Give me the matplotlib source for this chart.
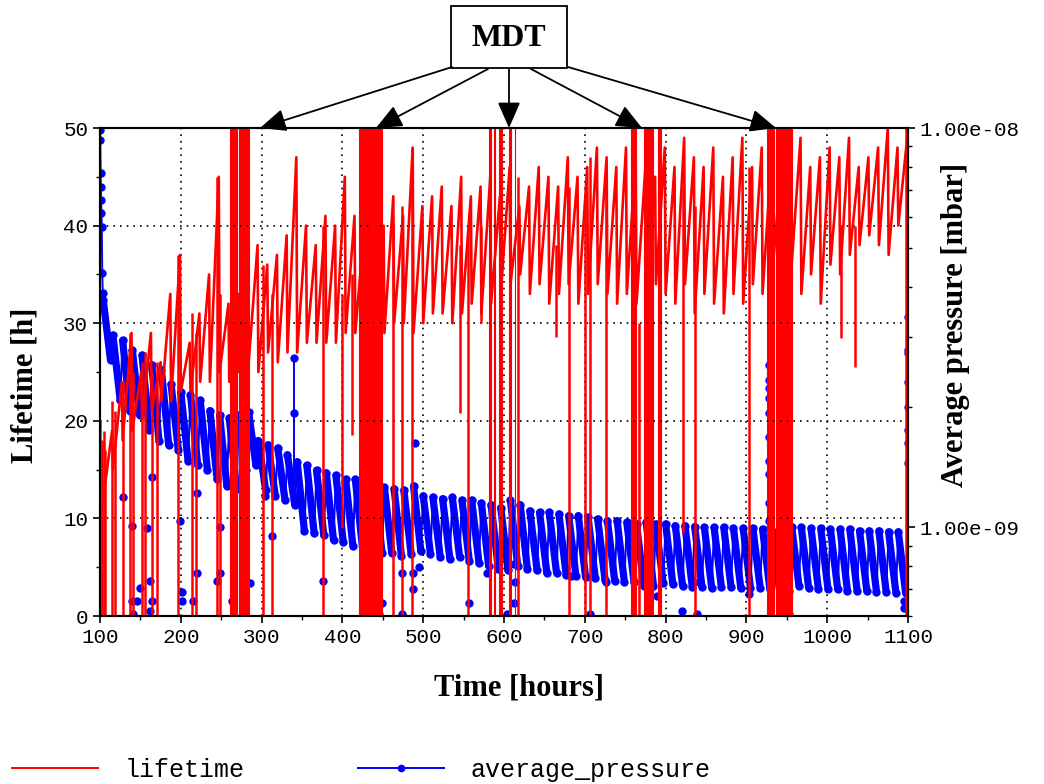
import numpy as np
import matplotlib
matplotlib.use('Agg')
import matplotlib.pyplot as plt
from matplotlib import ticker
from matplotlib.lines import Line2D
from matplotlib.patches import Rectangle, FancyArrowPatch

# ---- data ----
# one injection cycle every ~12 h, start times of the cycles
cycle_t = np.arange(104, 1100, 12)

# lifetime [h]: value at start of cycle (trough) and just before the drop (peak)
life_lo = [12, 15, 18, 19, 20, 21, 22, 22, 23, 23,
           24, 24, 25, 24, 25, 26, 25, 27, 26, 27,
           27, 28, 28, 28, 28, 29, 29, 29, 28, 29,
           30, 30, 29, 30, 31, 31, 30, 31, 32, 31,
           32, 33, 34, 35, 33, 34, 32, 33, 34, 32,
           33, 34, 33, 32, 33, 32, 33, 34, 33, 32,
           34, 31, 33, 32, 31, 33, 32, 34, 33, 35,
           34, 36, 33, 35, 32, 36, 35, 37, 38, 39,
           38, 37, 40]
life_hi = [19, 24, 29, 25, 29, 26, 33, 37, 28, 31,
           35, 45, 32, 33, 34, 38, 36, 37, 39, 47,
           40, 38, 41, 40, 45, 41, 40, 42, 40, 43,
           41, 48, 42, 43, 44, 42, 45, 43, 44, 45,
           43, 46, 42, 44, 46, 45, 44, 47, 45, 46,
           48, 47, 46, 48, 47, 46, 45, 48, 46, 49,
           47, 46, 48, 45, 47, 49, 46, 48, 47, 46,
           45, 49, 46, 47, 48, 47, 49, 46, 47, 48,
           50, 48, 49]

# single drop-outs of the lifetime signal
dip_t = [100.5, 102.5, 104.5, 106.5, 114.5, 118.6, 128.5, 137, 141, 151.6,
         155.6, 163.9, 170, 196.5, 213.7, 219, 244.4, 248, 302, 313,
         376, 399.4, 412, 462.6, 473.7, 486, 545, 556, 571, 617,
         664, 680, 700, 707, 726, 767.5, 821, 837, 903, 1017,
         1035, 1097.5]
dip_bottom = [0, 0, 0, 0, 0, 0, 0, 0, 0, 0,
              0, 0, 0, 0, 0, 0, 0, 0, 0, 0,
              0, 9, 18.5, 0, 0, 0, 20.8, 0, 30, 0,
              28.6, 0, 0, 0, 0, 0, 8.5, 0, 0, 28.5,
              25.5, 0]
dip_top = [20, 18, 19, 17, 22, 21, 24, 29, 25, 26,
           27, 25, 26, 37, 31, 29, 45, 33, 36, 33,
           40, 33, 35, 40, 42, 48, 38, 40, 40, 45,
           38, 44, 43, 47, 44, 30, 44, 42, 46, 40,
           40, 50]

# MDT periods (dense switching of the lifetime signal)
mdt_start = [261, 272, 421, 428, 582, 587.5, 594, 606.5, 613, 757, 773, 791, 926, 937, 953]
mdt_end = [270, 285, 427, 449, 583.5, 589, 598, 608.5, 614, 763, 785, 794, 934, 951, 957]

# average pressure [1e-10 mbar]: just after injection (hi) and end of decay (lo)
pres_hi = [37.1, 30.3, 29.4, 27.8, 27.0, 25.5, 24.8, 22.8, 21.8, 21.5,
           20.8, 19.6, 19.1, 18.8, 19.1, 19.4, 16.5, 16.1, 15.8, 15.2,
           14.6, 14.3, 13.9, 13.7, 13.5, 13.2, 13.2, 13.1, 12.9, 12.6,
           12.5, 12.4, 12.7, 12.0, 11.9, 11.8, 11.9, 11.7, 11.7, 11.5,
           11.4, 11.2, 11.7, 11.4, 11.0, 10.9, 10.9, 10.8, 10.7, 10.7,
           10.6, 10.5, 10.4, 10.4, 10.3, 10.2, 10.3, 10.2, 10.2, 10.1,
           10.1, 10.05, 10.0, 10.0, 10.0, 9.95, 9.95, 9.95, 9.9, 9.8,
           9.8, 10.05, 10.0, 9.95, 9.95, 9.9, 9.9, 9.9, 9.8, 9.8,
           9.8, 9.75, 9.75]
pres_lo = [26.2, 20.8, 19.6, 19.1, 17.5, 16.5, 16.1, 15.6, 14.7, 14.3,
           13.9, 13.2, 12.7, 12.5, 13.9, 14.3, 12.4, 12.0, 11.7, 11.4,
           9.8, 9.7, 9.55, 9.3, 9.2, 9.0, 8.85, 8.75, 8.65, 8.65,
           8.5, 8.6, 8.75, 8.6, 8.45, 8.35, 8.45, 8.26, 8.16, 8.0,
           7.86, 7.8, 8.0, 7.86, 7.8, 7.7, 7.7, 7.6, 7.55, 7.5,
           7.45, 7.4, 7.36, 7.3, 7.28, 7.15, 7.15, 7.24, 7.2, 7.15,
           7.1, 7.1, 7.07, 7.1, 7.1, 7.07, 7.07, 7.07, 7.03, 6.95,
           6.95, 7.15, 7.07, 7.03, 7.0, 7.0, 6.95, 6.95, 6.95, 6.9,
           6.9, 6.87, 6.87]

# pump-down at the very start
start_t = [100.0, 100.3, 100.7, 101.0, 101.4, 101.8, 102.2, 102.8, 103.4]
start_p = [99, 93.3, 77.1, 71.1, 66.0, 61.2, 56.5, 43.3, 38.6]

# isolated pressure readings off the band
out_t = [128.9, 139.2, 139.2, 141.3, 149.6, 145.4, 157.8, 162, 164, 164,
         162, 199, 201, 201, 215.6, 219.7, 219.7, 244.6, 248.7, 248.7,
         263, 285.9, 304.5, 312.8, 339.5, 339.5, 376, 444.8, 449, 473.7,
         473.7, 487.3, 487.3, 494.5, 490, 556.4, 579, 604, 612, 612,
         613, 682.4, 707, 725.8, 789.8, 820.7, 839.3, 841.3, 903.4, 953,
         1094.6, 1095.5,
         928.4, 928.4, 928.4, 928.4, 928.4, 928.4, 928.4, 928.4, 928.4, 928.4,
         1100, 1100, 1100, 1100, 1100, 1100, 1100, 1100]
out_p = [11.9, 10.1, 6.56, 6.07, 7.06, 6.56, 9.95, 7.36, 13.4, 6.56,
         6.19, 10.4, 6.88, 6.56, 6.56, 12.2, 7.67, 7.36, 10.0, 7.67,
         6.56, 7.24, 12.0, 9.5, 26.5, 19.3, 7.36, 6.07, 6.45, 7.67,
         6.07, 7.67, 7.03, 7.95, 16.3, 6.45, 7.67, 6.07, 6.45, 8.1,
         7.28, 7.55, 6.07, 7.28, 6.75, 6.19, 6.07, 7.28, 6.82, 6.07,
         6.3, 6.56,
         25.5, 23.4, 22.4, 21.1, 19.3, 16.8, 14.7, 13.6, 11.5, 10.4,
         33.6, 27.8, 27.3, 23.1, 20.0, 17.5, 16.3, 14.5]

# vertical connections of the two dotted chains
chain_t = [928.4, 1100, 339.5]
chain_top = [25.5, 33.6, 26.5]
chain_bottom = [10.4, 6.3, 12.0]

W, H = 1044, 784
MONO = 'Liberation Mono'
SERIF = 'Liberation Serif'
plt.rcParams['font.family'] = MONO

fig = plt.figure(figsize=(W / 100, H / 100), dpi=100)
ax = fig.add_axes([100 / W, 1 - 616 / H, 808 / W, 488 / H])
ax2 = ax.twinx()
ax.set_zorder(ax2.get_zorder() + 1)
ax.patch.set_visible(False)

# pressure (right axis, log)
e10 = 1e-10
pt, pv = list(start_t), [v * e10 for v in start_p]
seg_t, seg_p = [], []
for t0, hi, lo in zip(cycle_t, pres_hi, pres_lo):
    pt += [t0, t0 + 9]
    pv += [hi * e10, lo * e10]
    seg_t += [t0, t0 + 9, np.nan]
    seg_p += [hi * e10, lo * e10, np.nan]
ax2.plot(pt, pv, color='blue', lw=1.4, marker='o', ms=5)
ax2.plot(seg_t, seg_p, color='blue', lw=5.2, solid_capstyle='round')
ax2.plot(out_t, [v * e10 for v in out_p], 'o', color='blue', ms=5)
ax2.vlines(chain_t, [v * e10 for v in chain_bottom], [v * e10 for v in chain_top],
           color='blue', lw=1.4)

# lifetime (left axis)
lt, lv = [], []
for t0, lo, hi in zip(cycle_t, life_lo, life_hi):
    lt += [t0, t0 + 11]
    lv += [lo, hi]
ax.plot(lt, lv, color='red', lw=1.9)
ax.vlines(dip_t, dip_bottom, dip_top, color='red', lw=1.8)
for s, e in zip(mdt_start, mdt_end):
    ax.axvspan(s, e, color='red', lw=0.8)

# axes
ax.set_xlim(100, 1100)
ax.set_ylim(0, 50)
ax.set_xticks(range(100, 1101, 100))
ax.xaxis.set_minor_locator(ticker.MultipleLocator(50))
ax.set_yticks(range(0, 51, 10))
ax.yaxis.set_minor_locator(ticker.MultipleLocator(5))
ax.grid(True, which='major', color='black', linestyle=(0, (1, 3)), lw=1.2)

ax2.set_yscale('log')
ax2.set_ylim(6e-10, 1e-8)
ax2.yaxis.set_major_locator(ticker.FixedLocator([1e-9, 1e-8]))
ax2.yaxis.set_major_formatter(ticker.FuncFormatter(lambda v, p: '%.2e' % v))
ax2.yaxis.set_minor_locator(ticker.LogLocator(base=10, subs=np.arange(2, 10)))
ax2.yaxis.set_minor_formatter(ticker.NullFormatter())

for a in (ax, ax2):
    a.tick_params(which='major', length=5, width=1.2, labelsize=15)
    a.tick_params(which='minor', length=3, width=1.0)
    for sp in a.spines.values():
        sp.set_linewidth(1.5)

fig.text(519 / W, 1 - 688 / H, 'Time [hours]', ha='center', va='center',
         fontsize=22, fontweight='bold', family=SERIF)
fig.text(25 / W, 1 - 385 / H, 'Lifetime [h]', ha='center', va='center',
         rotation=90, fontsize=22, fontweight='bold', family=SERIF)
fig.text(955 / W, 1 - 325 / H, 'Average pressure [mbar]', ha='center', va='center',
         rotation=90, fontsize=22, fontweight='bold', family=SERIF)

# MDT callout
fig.add_artist(Rectangle((451 / W, 1 - 68 / H), 116 / W, 61.5 / H,
                         transform=fig.transFigure, fill=False, lw=1.3, color='black'))
fig.text(509 / W, 1 - 38 / H, 'MDT', ha='center', va='center',
         fontsize=23, fontweight='bold', family=SERIF)
arrows = [((452, 67), (260, 128)), ((488, 69), (376, 128)), ((509, 69), (509, 128)),
          ((531, 69), (642, 128)), ((568, 67), (776, 128))]
for (x0, y0), (x1, y1) in arrows:
    fig.add_artist(FancyArrowPatch((x0 / W, 1 - y0 / H), (x1 / W, 1 - y1 / H),
                                   transform=fig.transFigure,
                                   arrowstyle='-|>,head_length=0.8,head_width=0.35',
                                   mutation_scale=20, color='black', lw=1.3,
                                   shrinkA=0, shrinkB=0))

# legend
handles = [Line2D([], [], color='red', lw=1.4),
           Line2D([], [], color='blue', lw=1.4, marker='o', ms=4.5)]
fig.legend(handles, ['lifetime', 'average_pressure'], loc='center left',
           bbox_to_anchor=(12 / W, 1 - 770 / H), ncol=2, frameon=False,
           fontsize=18, handlelength=3.44, handletextpad=1.08,
           columnspacing=4.5, borderpad=0, borderaxespad=0)

fig.savefig('out.png', dpi=100)
